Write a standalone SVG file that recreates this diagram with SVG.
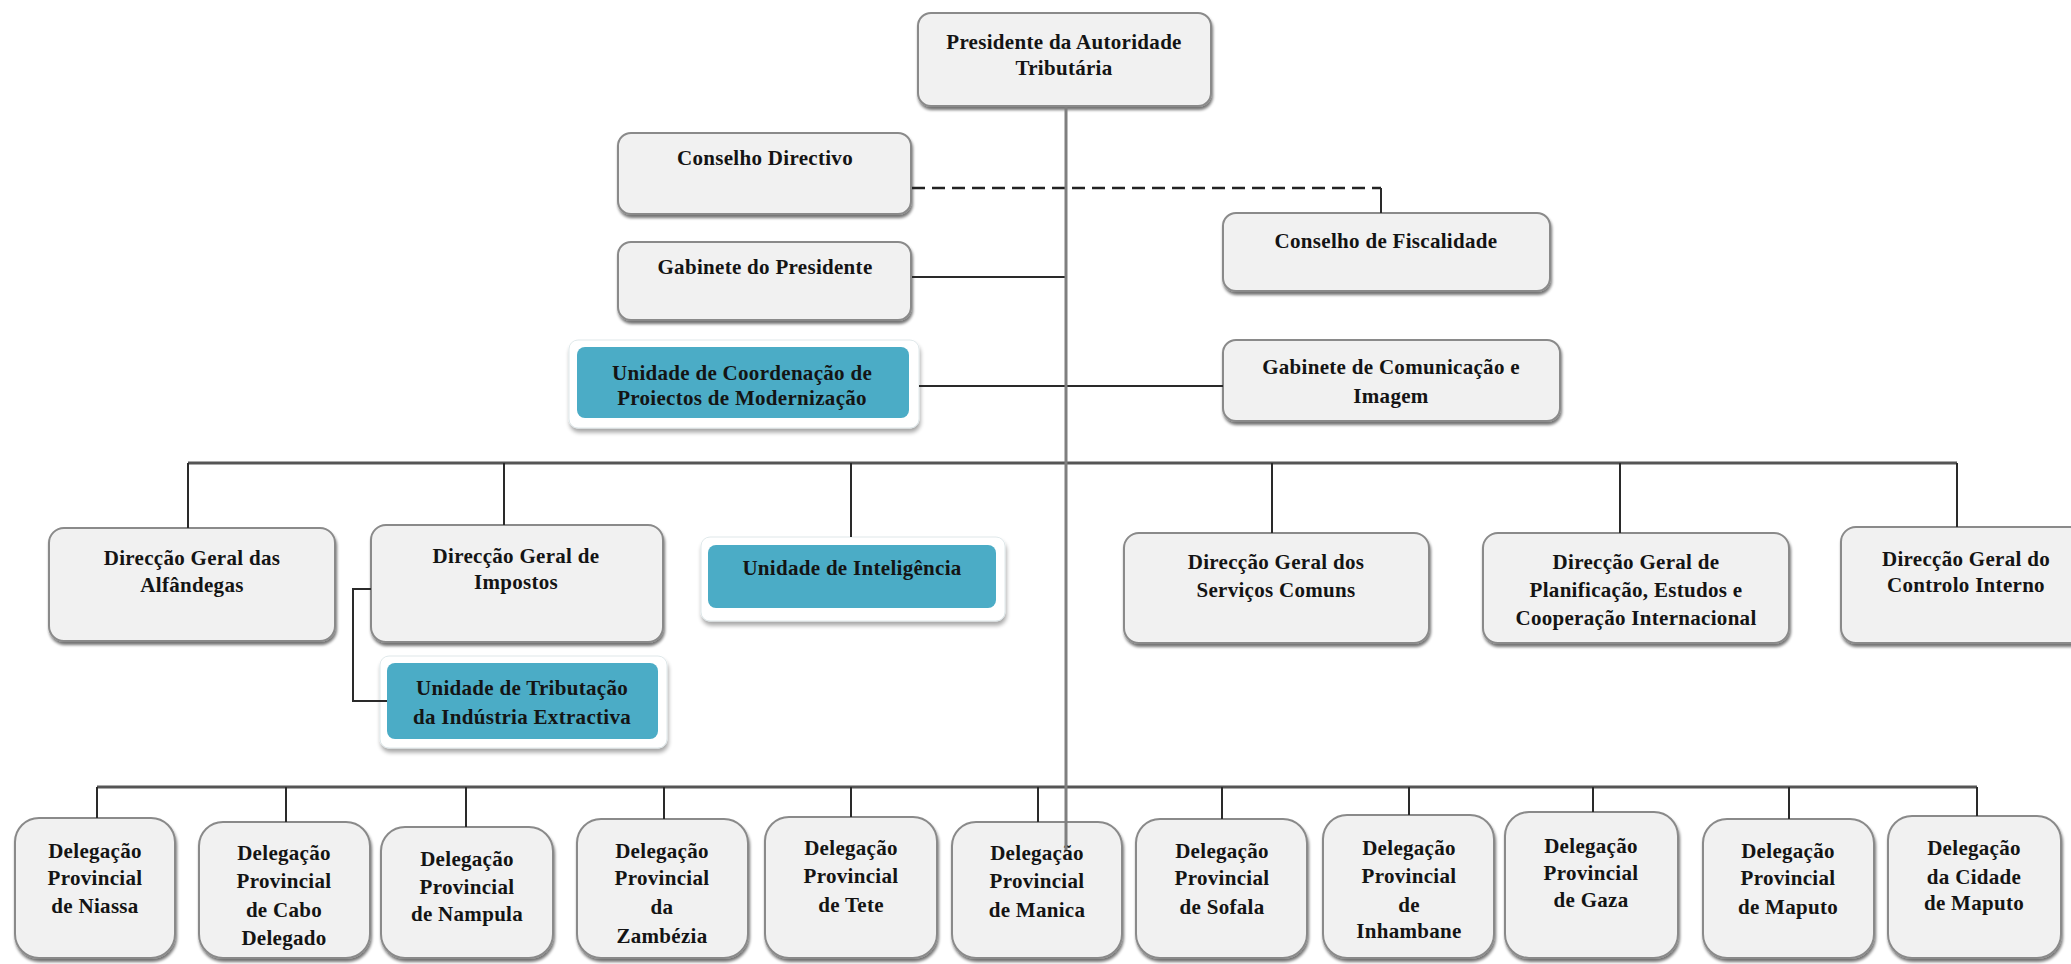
<svg xmlns="http://www.w3.org/2000/svg" width="2071" height="964" viewBox="0 0 2071 964">
<defs>
<filter id="sh" x="-10%" y="-10%" width="120%" height="130%">
<feGaussianBlur in="SourceAlpha" stdDeviation="1.5"/>
<feOffset dx="1" dy="3" result="b"/>
<feComponentTransfer><feFuncA type="linear" slope="0.55"/></feComponentTransfer>
<feMerge><feMergeNode/><feMergeNode in="SourceGraphic"/></feMerge>
</filter>
<filter id="sh2" x="-10%" y="-10%" width="120%" height="130%">
<feGaussianBlur in="SourceAlpha" stdDeviation="2"/>
<feOffset dx="1" dy="4" result="b"/>
<feComponentTransfer><feFuncA type="linear" slope="0.35"/></feComponentTransfer>
<feMerge><feMergeNode/><feMergeNode in="SourceGraphic"/></feMerge>
</filter>
</defs>
<style>
.box{fill:#f1f1f1;stroke:#8a8a8a;stroke-width:2;filter:url(#sh)}
.glow{fill:#ffffff;stroke:#dfe8ea;stroke-width:1;filter:url(#sh2)}
.teal{fill:#4bacc6}
text{font-family:"Liberation Serif","Times New Roman",serif;font-weight:bold;font-size:21px;fill:#141414;text-anchor:middle;letter-spacing:0.3px}
.bar{stroke:#555;stroke-width:3;fill:none}
.drop{stroke:#2a2a2a;stroke-width:2;fill:none}
.main{stroke:#7f7f7f;stroke-width:3;fill:none}
.dash{stroke:#222;stroke-width:2.5;fill:none;stroke-dasharray:13 7}
</style>
<rect width="2071" height="964" fill="#ffffff"/>
<g id="nodes">
<g id="presidente"><rect class="box" x="918" y="13" width="293" height="93" rx="13"/><text x="1064" y="49">Presidente da Autoridade</text><text x="1064" y="75">Tributária</text></g>
<g id="conselho-directivo"><rect class="box" x="618" y="133" width="293" height="81" rx="13"/><text x="765" y="165">Conselho Directivo</text></g>
<g id="gabinete-presidente"><rect class="box" x="618" y="242" width="293" height="78" rx="13"/><text x="765" y="274">Gabinete do Presidente</text></g>
<g id="conselho-fiscalidade"><rect class="box" x="1223" y="213" width="327" height="78" rx="13"/><text x="1386" y="248">Conselho de Fiscalidade</text></g>
<g id="gabinete-comunicacao"><rect class="box" x="1223" y="340" width="337" height="81" rx="13"/><text x="1391" y="374">Gabinete de Comunicação e</text><text x="1391" y="403">Imagem</text></g>
<g id="unidade-coordenacao"><rect class="glow" x="569" y="340" width="350" height="88" rx="9"/><rect class="teal" x="577" y="347" width="332" height="71" rx="8"/><text x="742" y="380">Unidade de Coordenação de</text><text x="742" y="405">Proiectos de Modernização</text></g>
<g id="dg-alfandegas"><rect class="box" x="49" y="528" width="286" height="113" rx="15"/><text x="192" y="565">Direcção Geral das</text><text x="192" y="592">Alfândegas</text></g>
<g id="dg-impostos"><rect class="box" x="371" y="525" width="292" height="117" rx="15"/><text x="516" y="563">Direcção Geral de</text><text x="516" y="589">Impostos</text></g>
<g id="unidade-inteligencia"><rect class="glow" x="701" y="537" width="304" height="84" rx="9"/><rect class="teal" x="708" y="545" width="288" height="63" rx="8"/><text x="852" y="575">Unidade de Inteligência</text></g>
<g id="unidade-tributacao"><rect class="glow" x="380" y="656" width="287" height="92" rx="9"/><rect class="teal" x="387" y="663" width="271" height="76" rx="8"/><text x="522" y="695">Unidade de Tributação</text><text x="522" y="724">da Indústria Extractiva</text></g>
<g id="dg-servicos-comuns"><rect class="box" x="1124" y="533" width="305" height="110" rx="15"/><text x="1276" y="569">Direcção Geral dos</text><text x="1276" y="597">Serviços Comuns</text></g>
<g id="dg-planificacao"><rect class="box" x="1483" y="533" width="306" height="110" rx="15"/><text x="1636" y="569">Direcção Geral de</text><text x="1636" y="597">Planificação, Estudos e</text><text x="1636" y="625">Cooperação Internacional</text></g>
<g id="dg-controlo-interno"><rect class="box" x="1841" y="527" width="254" height="116" rx="15"/><text x="1966" y="566">Direcção Geral do</text><text x="1966" y="592">Controlo Interno</text></g>
<g id="dp-niassa"><rect class="box" x="15" y="818" width="160" height="140" rx="24"/><text x="95" y="858">Delegação</text><text x="95" y="885">Provincial</text><text x="95" y="913">de Niassa</text></g>
<g id="dp-cabo-delgado"><rect class="box" x="199" y="822" width="171" height="136" rx="24"/><text x="284" y="860">Delegação</text><text x="284" y="888">Provincial</text><text x="284" y="917">de Cabo</text><text x="284" y="945">Delegado</text></g>
<g id="dp-nampula"><rect class="box" x="381" y="827" width="172" height="131" rx="24"/><text x="467" y="866">Delegação</text><text x="467" y="894">Provincial</text><text x="467" y="921">de Nampula</text></g>
<g id="dp-zambezia"><rect class="box" x="577" y="819" width="171" height="139" rx="24"/><text x="662" y="858">Delegação</text><text x="662" y="885">Provincial</text><text x="662" y="914">da</text><text x="662" y="943">Zambézia</text></g>
<g id="dp-tete"><rect class="box" x="765" y="817" width="172" height="141" rx="24"/><text x="851" y="855">Delegação</text><text x="851" y="883">Provincial</text><text x="851" y="912">de Tete</text></g>
<g id="dp-manica"><rect class="box" x="952" y="822" width="170" height="136" rx="24"/><text x="1037" y="860">Delegação</text><text x="1037" y="888">Provincial</text><text x="1037" y="917">de Manica</text></g>
<g id="dp-sofala"><rect class="box" x="1136" y="819" width="171" height="139" rx="24"/><text x="1222" y="858">Delegação</text><text x="1222" y="885">Provincial</text><text x="1222" y="914">de Sofala</text></g>
<g id="dp-inhambane"><rect class="box" x="1323" y="815" width="171" height="143" rx="24"/><text x="1409" y="855">Delegação</text><text x="1409" y="883">Provincial</text><text x="1409" y="912">de</text><text x="1409" y="938">Inhambane</text></g>
<g id="dp-gaza"><rect class="box" x="1505" y="812" width="173" height="146" rx="24"/><text x="1591" y="853">Delegação</text><text x="1591" y="880">Provincial</text><text x="1591" y="907">de Gaza</text></g>
<g id="dp-maputo"><rect class="box" x="1703" y="819" width="171" height="139" rx="24"/><text x="1788" y="858">Delegação</text><text x="1788" y="885">Provincial</text><text x="1788" y="914">de Maputo</text></g>
<g id="dc-maputo"><rect class="box" x="1888" y="816" width="173" height="142" rx="24"/><text x="1974" y="855">Delegação</text><text x="1974" y="884">da Cidade</text><text x="1974" y="910">de Maputo</text></g>
</g>
<g id="connectors">
<path class="dash" d="M912,188 H1381"/>
<path class="drop" d="M1381,188 V213"/>
<path class="drop" d="M912,277 H1066"/>
<path class="drop" d="M919,386 H1223"/>
<path class="bar" d="M188,463 H1957"/>
<path class="drop" d="M188,463 V528 M504,463 V525 M851,463 V537 M1272,463 V533 M1620,463 V533 M1957,463 V527"/>
<path class="drop" d="M371,589 H353 V701 H387"/>
<path class="bar" d="M97,787 H1977"/>
<path class="drop" d="M97,787 V818 M286,787 V822 M466,787 V827 M664,787 V819 M851,787 V817 M1038,787 V822 M1222,787 V819 M1409,787 V815 M1593,787 V812 M1789,787 V819 M1977,787 V816"/>
<path class="main" d="M1066,107 V850"/>
</g>
</svg>
